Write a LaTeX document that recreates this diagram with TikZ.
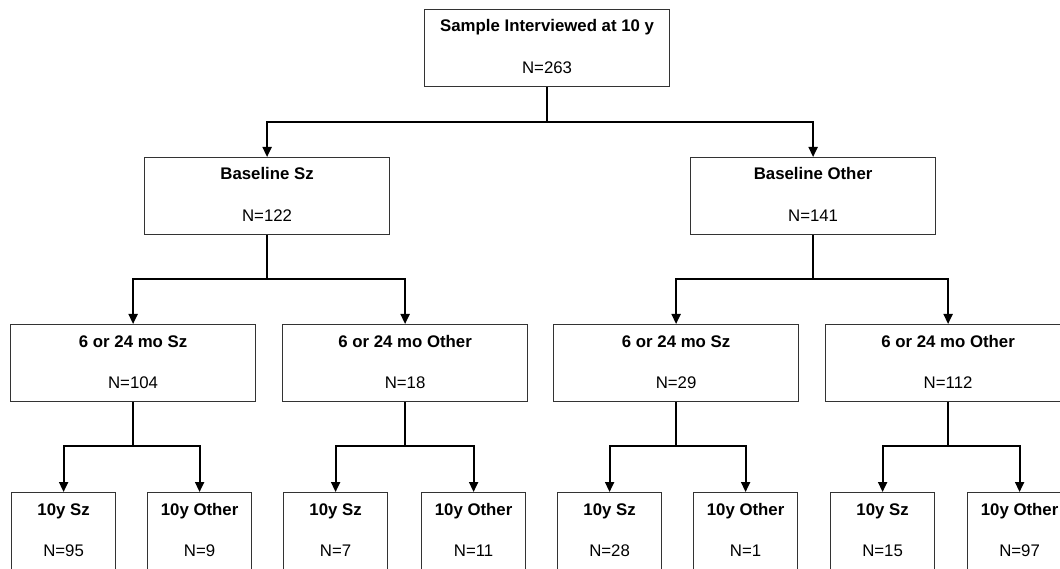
\documentclass[tikz,border=0pt]{standalone}
\usepackage{fontspec}
\setmainfont{Liberation Sans}
\usetikzlibrary{arrows.meta}
\begin{document}
\begin{tikzpicture}[x=1pt,y=-1pt,
  box/.style={draw=black!80,line width=1.2pt,fill=white,rectangle,anchor=north west,inner sep=0pt,minimum height=77pt},
  wbox/.style={box,minimum width=245pt},
  nbox/.style={box,minimum width=104pt,minimum height=90pt},
  ttl/.style={anchor=base,inner sep=0pt,font=\fontsize{16.8}{20}\selectfont\bfseries},
  num/.style={anchor=base,inner sep=0pt,font=\fontsize{16.8}{20}\selectfont},
  conn/.style={draw=black,line width=2pt},
  arr/.style={conn,-{Triangle[length=10pt,width=9pt]}}]
\useasboundingbox (0,0) rectangle (1060,569);
\fill[white] (0,0) rectangle (1060,569);
\clip (0,0) rectangle (1060,569);
% level 1
\node[wbox] (top) at (424,9) {};
% level 2
\node[wbox] (bsz) at (144,157) {};
\node[wbox] (both) at (690,157) {};
% level 3
\node[wbox] (c1) at (10,324) {};
\node[wbox] (c2) at (282,324) {};
\node[wbox] (c3) at (553,324) {};
\node[wbox] (c4) at (825,324) {};
% level 4
\node[nbox] (d1) at (11,492) {};
\node[nbox] (d2) at (147,492) {};
\node[nbox] (d3) at (283,492) {};
\node[nbox] (d4) at (421,492) {};
\node[nbox] (d5) at (557,492) {};
\node[nbox] (d6) at (693,492) {};
\node[nbox] (d7) at (830,492) {};
\node[nbox] (d8) at (967,492) {};
% texts
\foreach \n/\t/\v in {top/Sample Interviewed at 10 y/263, bsz/Baseline Sz/122, both/Baseline Other/141,
  c1/6 or 24 mo Sz/104, c2/6 or 24 mo Other/18, c3/6 or 24 mo Sz/29, c4/6 or 24 mo Other/112,
  d1/10y Sz/95, d2/10y Other/9, d3/10y Sz/7, d4/10y Other/11,
  d5/10y Sz/28, d6/10y Other/1, d7/10y Sz/15, d8/10y Other/97}{
  \node[ttl] (\n t) at ([yshift=-23pt]\n.north) {\t};
  \node[num] (\n n) at ([yshift=-64.5pt]\n.north) {N=\v};
}
% junctions
\coordinate (j0) at (top.south |- 0,122);
\coordinate (j1) at (bsz.south |- 0,279);
\coordinate (j2) at (both.south |- 0,279);
\coordinate (k1) at (c1.south |- 0,446);
\coordinate (k2) at (c2.south |- 0,446);
\coordinate (k3) at (c3.south |- 0,446);
\coordinate (k4) at (c4.south |- 0,446);
% connectors
\draw[conn] (top.south) -- (j0);
\draw[arr] (j0) -| (bsz.north);
\draw[arr] (j0) -| (both.north);
\draw[conn] (bsz.south) -- (j1);
\draw[arr] (j1) -| (c1.north);
\draw[arr] (j1) -| (c2.north);
\draw[conn] (both.south) -- (j2);
\draw[arr] (j2) -| (c3.north);
\draw[arr] (j2) -| (c4.north);
\draw[conn] (c1.south) -- (k1);
\draw[arr] (k1) -| (d1.north);
\draw[arr] (k1) -| (d2.north);
\draw[conn] (c2.south) -- (k2);
\draw[arr] (k2) -| (d3.north);
\draw[arr] (k2) -| (d4.north);
\draw[conn] (c3.south) -- (k3);
\draw[arr] (k3) -| (d5.north);
\draw[arr] (k3) -| (d6.north);
\draw[conn] (c4.south) -- (k4);
\draw[arr] (k4) -| (d7.north);
\draw[arr] (k4) -| (d8.north);
\end{tikzpicture}
\end{document}
